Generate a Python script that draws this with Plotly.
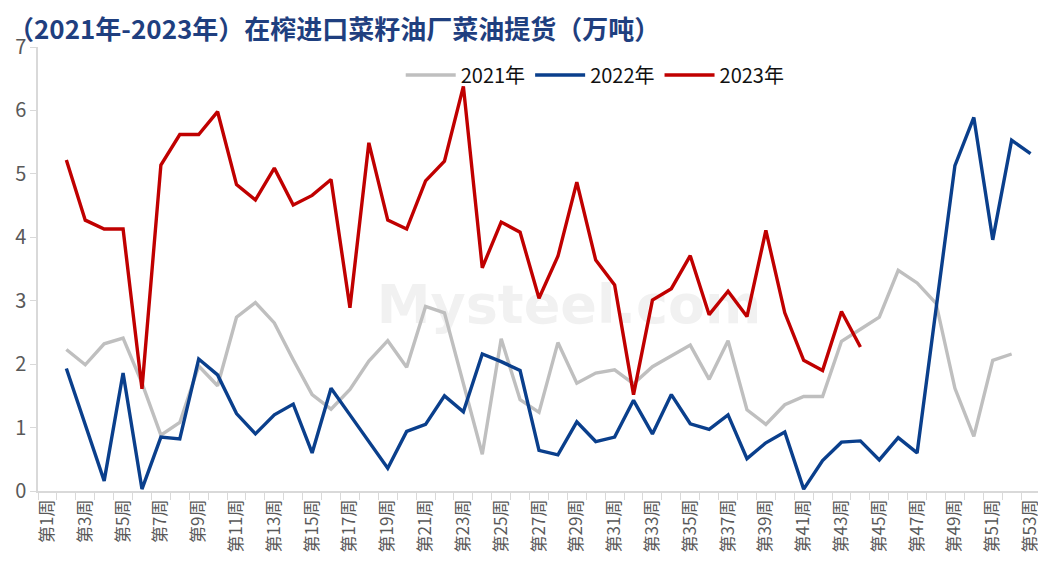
import plotly.graph_objects as go

weeks = [f"第{i}周" for i in range(1, 54)]

y2021 = [None, 2.23, 1.99, 2.32, 2.41, 1.70, 0.88, 1.08, 1.97, 1.66, 2.74, 2.97, 2.65, 2.07,
         1.52, 1.29, 1.60, 2.05, 2.37, 1.95, 2.91, 2.81, 1.70, 0.58, 2.40, 1.44, 1.24, 2.34,
         1.70, 1.86, 1.91, 1.69, 1.96, 2.13, 2.30, 1.76, 2.37, 1.28, 1.05, 1.36, 1.49, 1.49,
         2.36, 2.55, 2.74, 3.48, 3.28, 2.96, 1.62, 0.86, 2.06, 2.16, None]

y2022 = [None, 1.93, 1.03, 0.16, 1.86, 0.03, 0.85, 0.82, 2.08, 1.83, 1.22, 0.90, 1.20, 1.37,
         0.60, 1.62, 1.20, 0.78, 0.36, 0.94, 1.05, 1.50, 1.25, 2.16, 2.04, 1.90, 0.64, 0.57,
         1.09, 0.78, 0.85, 1.43, 0.90, 1.52, 1.06, 0.97, 1.20, 0.51, 0.76, 0.93, 0.03, 0.48,
         0.77, 0.79, 0.49, 0.84, 0.60, 2.87, 5.13, 5.89, 3.96, 5.53, 5.32]

y2023 = [None, 5.22, 4.27, 4.13, 4.13, 1.61, 5.14, 5.62, 5.62, 5.98, 4.83, 4.59, 5.09, 4.51,
         4.66, 4.91, 2.89, 5.49, 4.27, 4.13, 4.89, 5.20, 6.38, 3.52, 4.24, 4.08, 3.04, 3.70,
         4.87, 3.64, 3.25, 1.52, 3.01, 3.19, 3.71, 2.78, 3.15, 2.75, 4.11, 2.81, 2.06, 1.90,
         2.83, 2.27] + [None] * 9

series_names = ["2021年", "2022年", "2023年"]
series_colors = ["#BFBFBF", "#0A3F8C", "#C00000"]
tick_text = [w if (i % 2 == 0) else "" for i, w in enumerate(weeks)]
y_ticks = list(range(0, 8))

FONT = "Noto Sans CJK SC, Noto Sans, sans-serif"

fig = go.Figure()
for name, vals, col in zip(series_names, [y2021, y2022, y2023], series_colors):
    fig.add_trace(go.Scatter(
        x=weeks, y=vals, name=name, mode="lines",
        line=dict(color=col, width=3.4),
        connectgaps=False, hoverinfo="skip",
    ))

# faint watermark drawn beneath the lines
fig.add_shape(
    type="rect", xref="paper", yref="paper", x0=0.36, x1=0.70, y0=0.36, y1=0.50,
    line=dict(width=0), fillcolor="rgba(0,0,0,0)", layer="below",
    label=dict(text="Mysteel.com", textposition="middle center",
               font=dict(family="DejaVu Sans, sans-serif", size=54, color="#F1F1F1", weight="bold")),
)

fig.update_layout(
    width=1038, height=567,
    margin=dict(l=30, r=6, t=39, b=84),
    paper_bgcolor="white", plot_bgcolor="white",
    font=dict(family=FONT),
    title=dict(
        text="（2021年-2023年）在榨进口菜籽油厂菜油提货（万吨）",
        x=0.0, xanchor="left", xref="container", y=0.978, yanchor="top",
        font=dict(family=FONT, size=26, color="#1F3F7F", weight=600),
    ),
    legend=dict(
        orientation="h", x=0.362, xanchor="left", y=0.937, yanchor="middle",
        font=dict(family=FONT, size=20, color="#111111"),
        bgcolor="rgba(0,0,0,0)", itemwidth=50, traceorder="normal",
    ),
    showlegend=True,
)

fig.update_xaxes(
    type="category", categoryorder="array", categoryarray=weeks,
    tickmode="array", tickvals=weeks, ticktext=tick_text,
    tickson="boundaries", ticks="outside", ticklen=7, tickcolor="#D9D9D9",
    tickangle=-90, tickfont=dict(family=FONT, size=17, color="#595959"),
    showline=True, linecolor="#D9D9D9", linewidth=1.5,
    showgrid=False, zeroline=False, range=[-0.5, 52.5],
)
fig.update_yaxes(
    range=[0, 7], tickmode="array", tickvals=y_ticks,
    ticks="outside", ticklen=6, tickcolor="#D9D9D9",
    tickfont=dict(family=FONT, size=20, color="#595959"),
    showline=True, linecolor="#D9D9D9", linewidth=1.5,
    showgrid=False, zeroline=False,
)

fig.write_html("out.html")
